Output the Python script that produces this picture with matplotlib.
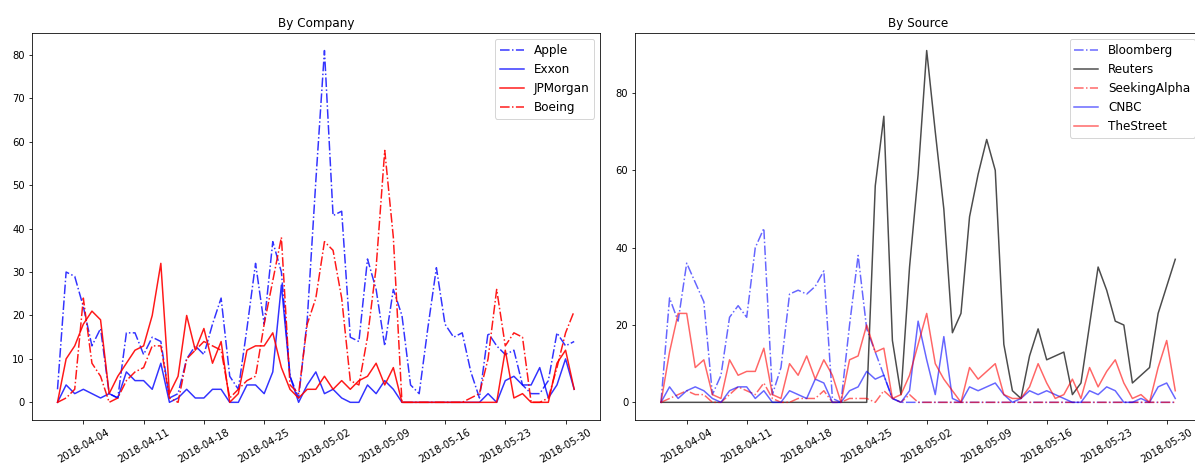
import numpy as np
import pandas as pd
import matplotlib
matplotlib.use("Agg")
import matplotlib.pyplot as plt
import matplotlib.dates as mdates

# daily mention counts, 2018-04-01 .. 2018-05-31
dates = pd.date_range("2018-04-01", "2018-05-31", freq="D")

apple = [3, 30, 29, 22, 13, 17, 2, 1, 16, 16, 11, 15, 14, 1, 2, 10, 13, 11, 18, 24,
         6, 3, 17, 32, 18, 37, 30, 6, 1, 19, 51, 81, 43, 44, 15, 14, 33, 26, 13, 26,
         20, 4, 2, 17, 31, 18, 15, 16, 7, 1, 16, 13, 11, 12, 4, 2, 2, 5, 16, 13, 14]
exxon = [0, 4, 2, 3, 2, 1, 2, 1, 7, 5, 5, 3, 9, 0, 1, 3, 1, 1, 3, 3,
         0, 0, 4, 4, 2, 7, 27, 6, 0, 4, 7, 2, 3, 1, 0, 0, 4, 2, 5, 3,
         0, 0, 0, 0, 0, 0, 0, 0, 0, 0, 2, 0, 5, 6, 4, 4, 8, 1, 4, 10, 3]
jpmorgan = [0, 10, 13, 18, 21, 19, 2, 6, 9, 12, 13, 20, 32, 2, 6, 20, 12, 17, 9, 14,
            0, 2, 12, 13, 13, 16, 8, 3, 1, 3, 3, 6, 3, 5, 3, 5, 6, 9, 4, 8,
            0, 0, 0, 0, 0, 0, 0, 0, 0, 0, 0, 0, 12, 1, 2, 0, 0, 0, 9, 12, 3]
boeing = [0, 1, 3, 24, 9, 6, 0, 1, 5, 7, 8, 13, 13, 1, 0, 10, 12, 14, 13, 12,
          1, 3, 5, 6, 18, 28, 38, 4, 2, 18, 24, 37, 35, 24, 5, 4, 15, 31, 58, 38,
          0, 0, 0, 0, 0, 0, 0, 0, 1, 2, 10, 26, 13, 16, 15, 0, 0, 1, 8, 16, 21]

bloomberg = [0, 27, 21, 36, 31, 26, 2, 7, 22, 25, 22, 40, 45, 2, 9, 28, 29, 28, 30, 34,
             1, 0, 20, 38, 19, 13, 7, 1, 0, 0, 0, 0, 0, 0, 0, 0, 0, 0, 0, 0,
             0, 0, 0, 0, 0, 0, 0, 0, 0, 0, 0, 0, 0, 0, 0, 0, 0, 0, 0, 0, 0]
reuters = [0, 0, 0, 0, 0, 0, 0, 0, 0, 0, 0, 0, 0, 0, 0, 0, 0, 0, 0, 0,
           0, 0, 0, 0, 0, 56, 74, 16, 2, 35, 59, 91, 70, 50, 18, 23, 48, 59, 68, 60,
           15, 3, 1, 12, 19, 11, 12, 13, 2, 5, 20, 35, 29, 21, 20, 5, 7, 9, 23, 30, 37]
seekingalpha = [0, 1, 2, 3, 2, 2, 0, 0, 2, 4, 3, 2, 5, 1, 0, 0, 1, 1, 1, 3,
                0, 0, 1, 1, 1, 0, 3, 1, 0, 2, 0, 0, 0, 0, 0, 0, 0, 0, 0, 0,
                0, 0, 0, 0, 0, 0, 0, 0, 0, 0, 0, 0, 0, 0, 0, 0, 0, 0, 0, 0, 0]
cnbc = [0, 4, 1, 3, 4, 3, 1, 0, 3, 4, 4, 1, 3, 0, 0, 3, 2, 1, 6, 5,
        0, 0, 3, 4, 8, 6, 7, 1, 0, 3, 21, 11, 2, 17, 1, 0, 4, 3, 4, 5,
        2, 0, 1, 3, 2, 3, 2, 1, 0, 0, 3, 2, 4, 3, 0, 0, 1, 0, 4, 5, 1]
thestreet = [0, 13, 23, 23, 9, 11, 2, 1, 11, 7, 8, 8, 14, 2, 1, 10, 7, 12, 6, 11,
             7, 0, 11, 12, 20, 13, 14, 1, 2, 7, 15, 23, 10, 6, 3, 0, 9, 6, 8, 10,
             2, 1, 1, 4, 10, 5, 1, 2, 6, 1, 9, 4, 8, 11, 5, 1, 2, 0, 9, 16, 3]

fig = plt.figure(figsize=(1195 / 72, 464 / 72), dpi=72)
ax1 = fig.add_axes([0.0265, 0.095, 0.4756, 0.834])
ax2 = fig.add_axes([0.5316, 0.095, 0.4734, 0.834])

# --- by company ---
ax1.plot(dates, apple, color="blue", linestyle="-.", alpha=0.8, lw=1.5, label="Apple")
ax1.plot(dates, exxon, color="blue", linestyle="-", alpha=0.8, lw=1.5, label="Exxon")
ax1.plot(dates, jpmorgan, color="red", linestyle="-", alpha=0.9, lw=1.5, label="JPMorgan")
ax1.plot(dates, boeing, color="red", linestyle="-.", alpha=0.9, lw=1.5, label="Boeing")
ax1.set_title("By Company", fontsize=12)
ax1.legend(loc="upper right", fontsize=12)

# --- by source ---
ax2.plot(dates, bloomberg, color="blue", linestyle="-.", alpha=0.6, lw=1.5, label="Bloomberg")
ax2.plot(dates, reuters, color="black", linestyle="-", alpha=0.7, lw=1.5, label="Reuters")
ax2.plot(dates, seekingalpha, color="red", linestyle="-.", alpha=0.6, lw=1.5, label="SeekingAlpha")
ax2.plot(dates, cnbc, color="blue", linestyle="-", alpha=0.6, lw=1.5, label="CNBC")
ax2.plot(dates, thestreet, color="red", linestyle="-", alpha=0.6, lw=1.5, label="TheStreet")
ax2.set_title("By Source", fontsize=12)
ax2.legend(loc="upper right", fontsize=12)

for ax in (ax1, ax2):
    ax.xaxis.set_major_locator(mdates.WeekdayLocator(byweekday=mdates.WE))
    ax.xaxis.set_major_formatter(mdates.DateFormatter("%Y-%m-%d"))
    plt.setp(ax.get_xticklabels(), rotation=30)

fig.savefig("out.png", dpi=72)
